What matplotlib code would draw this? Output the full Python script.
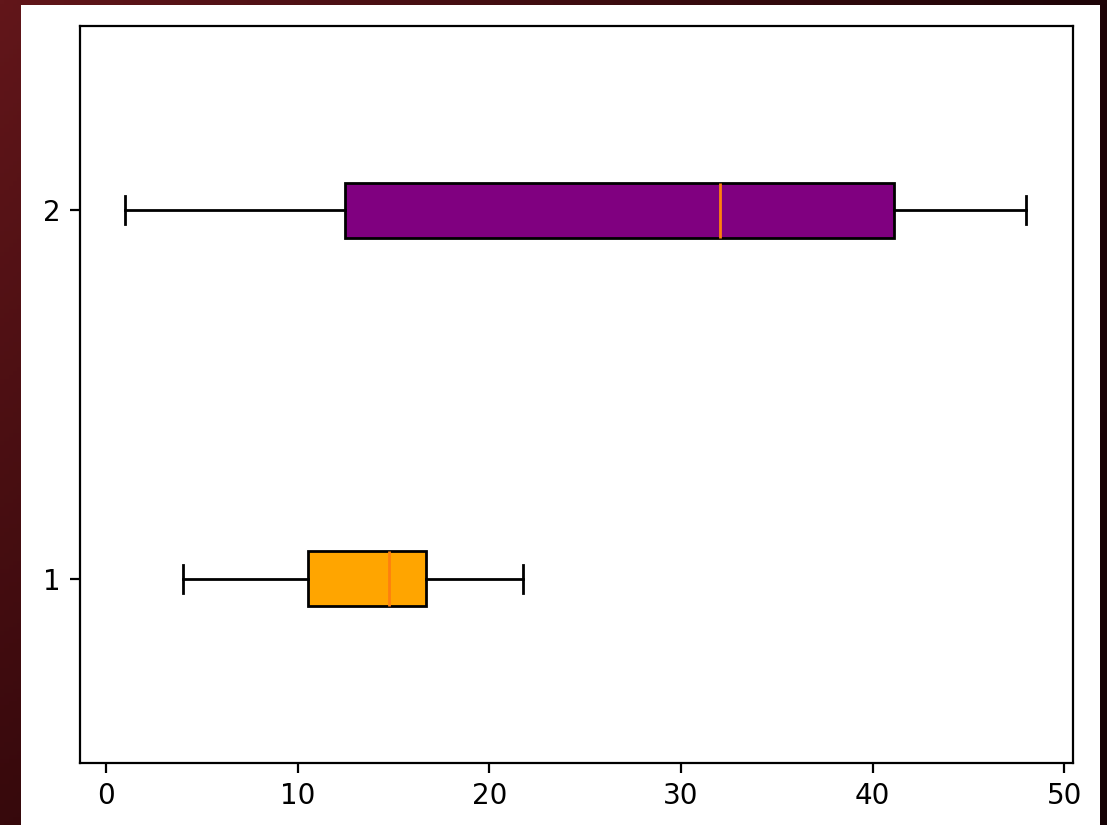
import numpy as np
import matplotlib
matplotlib.use("Agg")
import matplotlib.pyplot as plt
from matplotlib.patches import Rectangle

# Box statistics per group: whisker low, Q1, median, Q3, whisker high
positions = [1, 2]
whislo = [4.0, 1.0]
q1 = [10.55, 12.45]
medians = [14.75, 32.05]
q3 = [16.72, 41.1]
whishi = [21.75, 48.0]
box_colors = ["orange", "purple"]

W, H = 1107, 825
fig = plt.figure(figsize=(W / 200, H / 200), dpi=200)

# Dark red backdrop with a soft diagonal shading
bg = fig.add_axes([0, 0, 1, 1], zorder=-10)
bg.set_axis_off()
yy, xx = np.mgrid[0:1:200j, 0:1:260j]
tl = np.array([98, 22, 26]) / 255
tr = np.array([30, 4, 7]) / 255
bl = np.array([55, 9, 12]) / 255
br = np.array([22, 2, 5]) / 255
grad = ((1 - xx)[..., None] * (1 - yy)[..., None] * tl
        + xx[..., None] * (1 - yy)[..., None] * tr
        + (1 - xx)[..., None] * yy[..., None] * bl
        + xx[..., None] * yy[..., None] * br)
bg.imshow(grad, aspect="auto", extent=[0, 1, 1, 0])
bg.set_xlim(0, 1)
bg.set_ylim(1, 0)

# White figure panel
fig.patches.append(Rectangle((21 / W, 0), (1100 - 21) / W, (825 - 5) / H,
                             transform=fig.transFigure, facecolor="white",
                             edgecolor="none", zorder=-5))

ax = fig.add_axes([80 / W, (H - 763) / H, (1073 - 80) / W, (763 - 26) / H])

stats = [
    {"whislo": whislo[i], "q1": q1[i], "med": medians[i], "q3": q3[i],
     "whishi": whishi[i], "fliers": []}
    for i in range(len(positions))
]
bp = ax.bxp(stats, positions=positions, vert=False, patch_artist=True)
for patch, color in zip(bp["boxes"], box_colors):
    patch.set_facecolor(color)

ax.set_xlim(-1.35, 50.45)
ax.set_ylim(0.5, 2.5)
ax.set_xticks([0, 10, 20, 30, 40, 50])
ax.set_yticks(positions)
ax.set_yticklabels([str(p) for p in positions])

fig.savefig("out.png", dpi=200)
